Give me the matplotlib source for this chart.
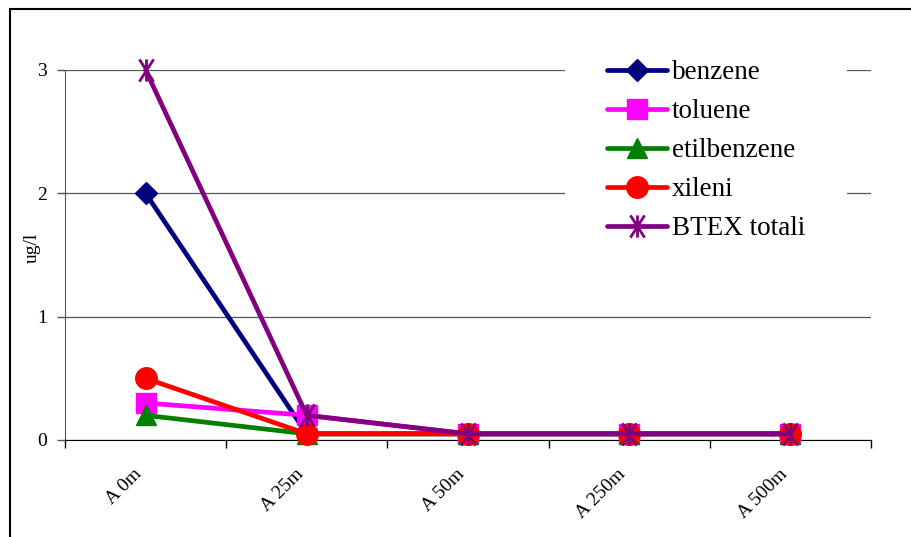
import matplotlib
matplotlib.use("Agg")
import matplotlib.pyplot as plt
from matplotlib.path import Path
from matplotlib.patches import Rectangle
from matplotlib.lines import Line2D

plt.rcParams['font.family'] = ['Liberation Serif', 'DejaVu Serif']

# Sampling stations and measured concentrations (ug/l)
stations = ["A 0m", "A 25m", "A 50m", "A 250m", "A 500m"]
benzene = [2.0, 0.05, 0.05, 0.05, 0.05]
toluene = [0.3, 0.2, 0.05, 0.05, 0.05]
etilbenzene = [0.2, 0.05, 0.05, 0.05, 0.05]
xileni = [0.5, 0.05, 0.05, 0.05, 0.05]
btex_totali = [3.0, 0.2, 0.05, 0.05, 0.05]

series_names = ["benzene", "toluene", "etilbenzene", "xileni", "BTEX totali"]
y_ticks = [0, 1, 2, 3]

# Asterisk marker: an X plus a vertical stroke
star_path = Path(
    [(0, -0.5), (0, 0.5), (-0.32, -0.5), (0.32, 0.5), (-0.32, 0.5), (0.32, -0.5)],
    [Path.MOVETO, Path.LINETO, Path.MOVETO, Path.LINETO, Path.MOVETO, Path.LINETO],
)

styles = [
    dict(color="#000080", marker="D", ms=11.5),
    dict(color="#FF00FF", marker="s", ms=14.5),
    dict(color="#008000", marker="^", ms=15),
    dict(color="#FF0000", marker="o", ms=15.5),
    dict(color="#800080", marker=star_path, ms=16, mew=2),
]

W, H = 912, 537
fig = plt.figure(figsize=(W / 100, H / 100), dpi=100)
fig.patch.set_facecolor("white")

# outer chart frame (left and top edges visible)
fig.add_artist(Line2D([10 / W, 10 / W], [0, 1 - 9 / H], color="black", lw=1.5,
                      transform=fig.transFigure))
fig.add_artist(Line2D([10 / W, 1], [1 - 9 / H, 1 - 9 / H], color="black", lw=1.5,
                      transform=fig.transFigure))

left, right, bottom, top = 65 / W, 871 / W, 1 - 440 / H, 1 - 70 / H
ax = fig.add_axes([left, bottom, right - left, top - bottom])

x = list(range(len(stations)))
data = [benzene, toluene, etilbenzene, xileni, btex_totali]
handles = []
for name, vals, st in zip(series_names, data, styles):
    mfc = st["color"] if st["marker"] is not star_path else "none"
    h, = ax.plot(x, vals, color=st["color"], lw=3.4, marker=st["marker"],
                 ms=st["ms"], mfc=mfc, mec=st["color"], mew=st.get("mew", 1),
                 clip_on=False, zorder=3, label=name, solid_capstyle="round")
    handles.append(h)

ax.set_xlim(-0.5, len(stations) - 0.5)
ax.set_ylim(0, 3)
ax.set_yticks(y_ticks)
ax.set_yticklabels([str(v) for v in y_ticks], fontsize=14)
ax.yaxis.grid(True, color="#555555", lw=0.9)
ax.set_axisbelow(True)

# category boundaries carry the tick marks, centres carry the labels
ax.set_xticks([i - 0.5 for i in range(len(stations) + 1)])
ax.set_xticklabels([])
ax.set_xticks(x, minor=True)
ax.set_xticklabels(stations, minor=True, rotation=45, ha="right", va="bottom",
                   rotation_mode="anchor", fontsize=14)
ax.tick_params(axis="x", which="minor", length=0, pad=27)
ax.tick_params(axis="x", which="major", length=6, width=1, color="black", direction="out")
ax.tick_params(axis="y", length=6, width=1, color="#555555", direction="out", pad=7)

for s in ["top", "right"]:
    ax.spines[s].set_visible(False)
ax.spines["left"].set_color("#555555")
ax.spines["bottom"].set_color("black")

ax.set_ylabel("ug/l", fontsize=14)
ax.yaxis.set_label_coords(41 / W, 1 - 248 / H, transform=fig.transFigure)

# legend on a white panel that hides the gridlines behind it
ax.add_patch(Rectangle((565 / W, 1 - 247 / H), (847 - 565) / W, (247 - 48) / H,
                       transform=fig.transFigure, facecolor="white",
                       edgecolor="none", zorder=1.5, clip_on=False))
fig.legend(handles=handles, loc="upper left",
           bbox_to_anchor=(607 / W, 1 - 60 / H), frameon=False,
           fontsize=19.5, handlelength=2.2, handletextpad=0.2,
           labelspacing=0.52, borderaxespad=0, borderpad=0)

fig.savefig("out.png", dpi=100)
